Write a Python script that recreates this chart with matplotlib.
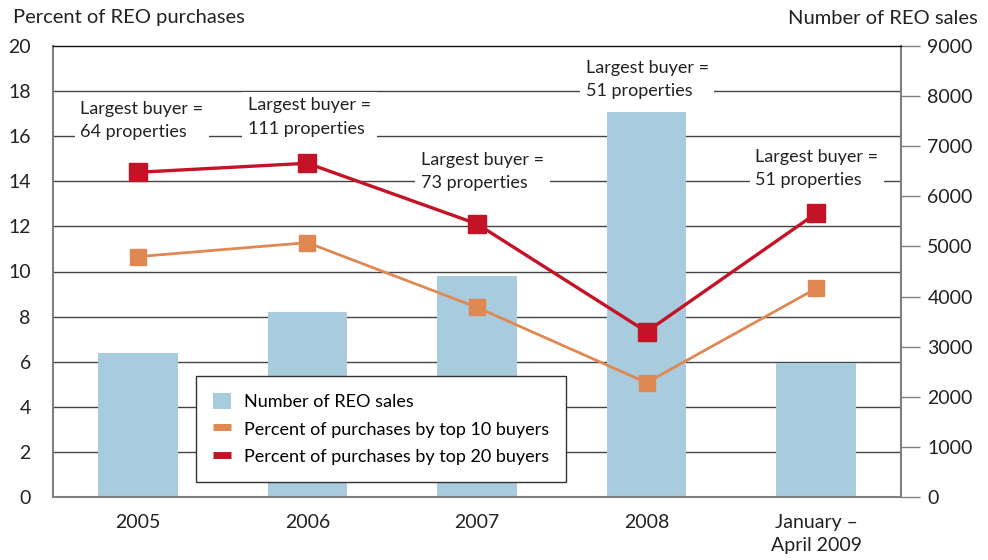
import matplotlib.pyplot as plt
import numpy as np
from matplotlib.patches import Patch
from matplotlib.lines import Line2D

plt.rcParams['font.family'] = ['Lato', 'DejaVu Sans']

# data
periods = ["2005", "2006", "2007", "2008", "January –\nApril 2009"]
reo_sales = [2870, 3690, 4410, 7680, 2670]
top10_pct = [10.66, 11.28, 8.41, 5.07, 9.25]
top20_pct = [14.40, 14.80, 12.11, 7.33, 12.58]
largest_buyer = [64, 111, 73, 51, 51]

left_ticks = list(range(0, 21, 2))
right_ticks = list(range(0, 9001, 1000))

# where each "Largest buyer" note sits (x in category units, y centre on left scale)
note_x = [-0.34, 0.65, 1.67, 2.64, 3.64]
note_y = [16.7, 16.85, 14.45, 18.5, 14.55]

BAR = "#a8cbdd"
ORANGE = "#e08852"
RED = "#c41327"
GRID = "#444444"
SPINE = "#808080"
TXT = "#222222"

fig = plt.figure(figsize=(9.88, 5.6), dpi=100)
ax = fig.add_axes([53 / 988, 63 / 560, 848 / 988, 451 / 560])
ax2 = ax.twinx()
ax.set_zorder(ax2.get_zorder() + 1)
ax.patch.set_visible(False)

x = np.arange(len(periods))

# bars + gridlines live on the right axis, underneath the lines
ax2.bar(x, reo_sales, width=0.47, color=BAR, zorder=2)
ax2.set_ylim(0, 9000)
for t in left_ticks[1:-1]:
    ax2.axhline(t * 9000 / 20, color=GRID, lw=1, zorder=1)

ax.plot(x, top10_pct, color=ORANGE, lw=2, marker="s", ms=12, zorder=3)
ax.plot(x, top20_pct, color=RED, lw=2.4, marker="s", ms=13, zorder=4)

for i, n in enumerate(largest_buyer):
    ax.text(note_x[i], note_y[i], "Largest buyer =\n%d properties" % n,
            ha="left", va="center", fontsize=13, color=TXT, linespacing=1.55,
            bbox=dict(facecolor="white", edgecolor="none", pad=4), zorder=5)

ax.set_xlim(-0.5, len(periods) - 0.5)
ax.set_ylim(0, 20)
ax.set_yticks(left_ticks)
ax2.set_yticks(right_ticks)
ax.set_xticks(x, periods)
for lab in ax.get_xticklabels():
    lab.set_linespacing(1.45)

ax.tick_params(axis="y", length=0, pad=16, labelsize=14, labelcolor=TXT)
ax.tick_params(axis="x", length=0, pad=12, labelsize=14, labelcolor=TXT)
ax2.tick_params(axis="y", length=14, width=1, color=SPINE, pad=5,
                labelsize=14, labelcolor=TXT)

for side in ["left", "bottom", "right"]:
    ax.spines[side].set_color(SPINE)
    ax.spines[side].set_linewidth(1.5)
ax.spines["top"].set_color("#111111")
ax.spines["top"].set_linewidth(1)
for s in ax2.spines.values():
    s.set_visible(False)

fig.text(13 / 988, 1 - 18 / 560, "Percent of REO purchases", ha="left",
         va="center", fontsize=14.5, color=TXT)
fig.text(978 / 988, 1 - 18 / 560, "Number of REO sales", ha="right",
         va="center", fontsize=14.5, color=TXT)

handles = [Patch(facecolor=BAR, edgecolor="none"),
           Line2D([], [], color=ORANGE, lw=5, solid_capstyle="butt"),
           Line2D([], [], color=RED, lw=5, solid_capstyle="butt")]
labels = ["Number of REO sales", "Percent of purchases by top 10 buyers",
          "Percent of purchases by top 20 buyers"]
leg = ax.legend(handles, labels, loc="upper left",
                bbox_to_anchor=(196 / 988, 1 - 376 / 560),
                bbox_transform=fig.transFigure, fontsize=13, frameon=True,
                fancybox=False, edgecolor="#333333", framealpha=1,
                handlelength=1.0, handleheight=1.0, handletextpad=0.7,
                labelspacing=0.55, borderpad=0.95, borderaxespad=0)
leg.get_frame().set_linewidth(1)
leg.set_zorder(10)

fig.savefig("out.png", dpi=100)
